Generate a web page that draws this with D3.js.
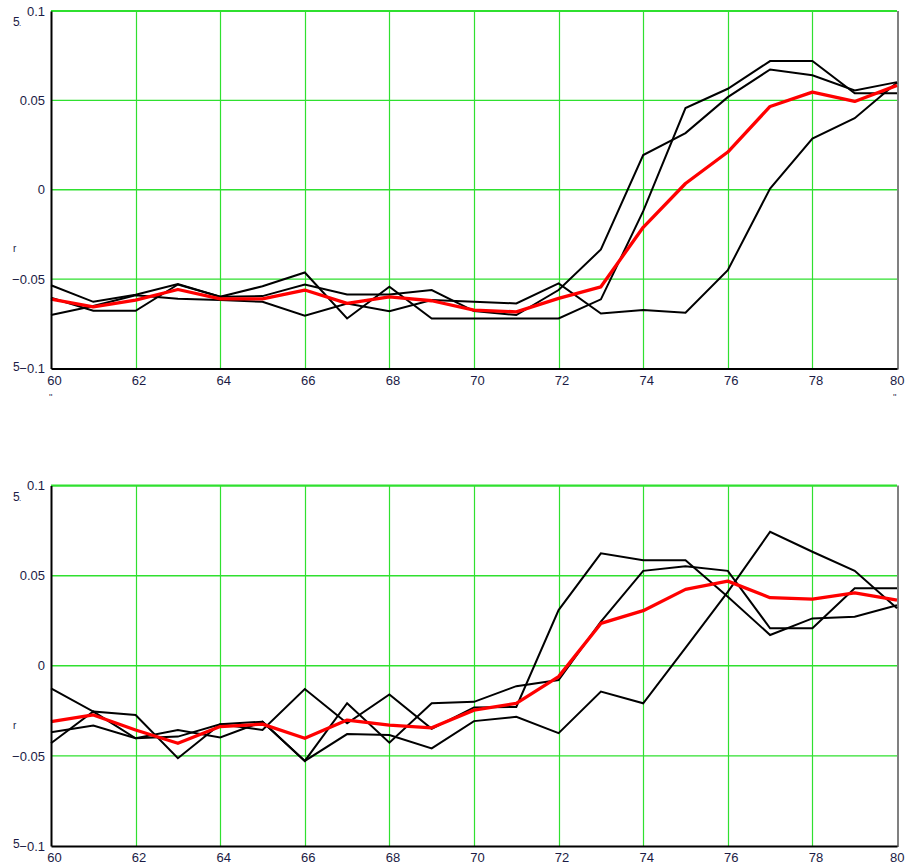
<!DOCTYPE html>
<html>
<head>
<meta charset="utf-8">
<script src="https://cdn.jsdelivr.net/npm/d3@7"></script>
<style>
  html, body { margin: 0; padding: 0; background: #fff; }
  svg { display: block; }
  text { font-family: "Liberation Sans", Arial, sans-serif; }
</style>
</head>
<body>
<svg id="chart" width="905" height="868"></svg>
<script>
// ---------- data ----------
const xValues = [60,61,62,63,64,65,66,67,68,69,70,71,72,73,74,75,76,77,78,79,80];
const xTickValues = [60,62,64,66,68,70,72,74,76,78,80];
const yTickValues = [-0.1,-0.05,0,0.05,0.1];
const yTickLabels = ["\u22120.1","\u22120.05","0","0.05","0.1"];

// top panel: three runs (black) and their mean (red)
const topRun1 = [-0.0534,-0.0627,-0.0587,-0.0528,-0.0599,-0.0540,-0.0463,-0.0720,-0.0543,-0.0720,-0.0720,-0.0720,-0.0720,-0.0613,-0.0120,0.0457,0.0565,0.0720,0.0720,0.0540,0.0540];
const topRun2 = [-0.0701,-0.0650,-0.0590,-0.0610,-0.0617,-0.0627,-0.0705,-0.0636,-0.0679,-0.0617,-0.0627,-0.0636,-0.0524,-0.0692,-0.0673,-0.0688,-0.0450,0.0007,0.0286,0.0400,0.0600];
const topRun3 = [-0.0604,-0.0677,-0.0677,-0.0530,-0.0599,-0.0595,-0.0530,-0.0586,-0.0586,-0.0561,-0.0679,-0.0701,-0.0561,-0.0334,0.0194,0.0317,0.0518,0.0673,0.0640,0.0556,0.0602];
const topMean = [-0.0612,-0.0655,-0.0617,-0.0558,-0.0610,-0.0610,-0.0561,-0.0636,-0.0599,-0.0621,-0.0673,-0.0683,-0.0608,-0.0543,-0.0210,0.0035,0.0211,0.0466,0.0546,0.0494,0.0584];

// bottom panel
const botRun1 = [-0.0125,-0.0254,-0.0273,-0.0513,-0.0324,-0.0310,-0.0528,-0.0208,-0.0427,-0.0208,-0.0200,-0.0113,-0.0079,0.0245,0.0527,0.0553,0.0527,0.0208,0.0208,0.0430,0.0430];
const botRun2 = [-0.0430,-0.0254,-0.0402,-0.0356,-0.0398,-0.0310,-0.0528,-0.0379,-0.0384,-0.0458,-0.0307,-0.0283,-0.0374,-0.0143,-0.0208,0.0100,0.0410,0.0744,0.0633,0.0527,0.0319];
const botRun3 = [-0.0369,-0.0332,-0.0402,-0.0393,-0.0324,-0.0356,-0.0129,-0.0319,-0.0159,-0.0350,-0.0231,-0.0228,0.0309,0.0624,0.0586,0.0586,0.0383,0.0171,0.0263,0.0272,0.0336];
const botMean = [-0.0310,-0.0273,-0.0356,-0.0430,-0.0337,-0.0324,-0.0402,-0.0301,-0.0329,-0.0344,-0.0246,-0.0208,-0.0060,0.0235,0.0306,0.0424,0.0470,0.0378,0.0370,0.0405,0.0365];

// ---------- drawing ----------
const svg = d3.select("#chart");
svg.append("rect").attr("width",905).attr("height",868).attr("fill","#fff");

const GRID = "#2fe02f";
const TXT = "#1b1b45";

function panel(top, bottom, runs, mean) {
  const x = d3.scaleLinear().domain([60,80]).range([51,897]);
  const y = d3.scaleLinear().domain([-0.1,0.1]).range([bottom, top]);
  const g = svg.append("g");

  // vertical grid lines
  g.selectAll("line.vg").data(xTickValues.filter(v => v > 60 && v < 80)).join("line")
    .attr("x1", d => Math.round(x(d)) + 0.5).attr("x2", d => Math.round(x(d)) + 0.5)
    .attr("y1", top).attr("y2", bottom)
    .attr("stroke", GRID).attr("stroke-width", 1.2);
  // horizontal grid lines
  g.selectAll("line.hg").data(yTickValues.filter(v => v > -0.1)).join("line")
    .attr("x1", 51).attr("x2", 897)
    .attr("y1", d => y(d)).attr("y2", d => y(d))
    .attr("stroke", GRID).attr("stroke-width", d => d === 0.1 ? 2.2 : 1.4);

  // right border
  g.append("line").attr("x1",898).attr("x2",898).attr("y1",top).attr("y2",bottom+1)
    .attr("stroke","#808080").attr("stroke-width",2);

  const line = d3.line().x((d,i) => x(xValues[i])).y(d => y(d));
  runs.forEach(r => {
    g.append("path").datum(r).attr("d", line)
      .attr("fill","none").attr("stroke","#000").attr("stroke-width",2)
      .attr("stroke-linejoin","miter");
  });
  g.append("path").datum(mean).attr("d", line)
    .attr("fill","none").attr("stroke","#ff0000").attr("stroke-width",3.3)
    .attr("stroke-linejoin","round");

  // axes
  const ax = g.append("g").attr("transform", `translate(0,${bottom})`)
    .call(d3.axisBottom(x).tickValues(xTickValues).tickSize(0).tickSizeOuter(0).tickPadding(7).tickFormat(d3.format("d")));
  ax.select(".domain").attr("stroke","#000").attr("stroke-width",2);
  ax.selectAll(".tick text").attr("fill",TXT).attr("font-size",13).attr("dx",3);
  ax.selectAll(".tick text").filter(d => d === 80).attr("text-anchor","end").attr("dx",7);

  const ay = g.append("g").attr("transform", `translate(51,0)`)
    .call(d3.axisLeft(y).tickValues(yTickValues).tickSize(0).tickSizeOuter(0).tickPadding(6)
      .tickFormat((d,i) => yTickLabels[i]));
  ay.select(".domain").attr("stroke","#000").attr("stroke-width",2);
  ay.selectAll(".tick text").attr("fill",TXT).attr("font-size",13);

  // small stray labels
  g.append("text").attr("x",13).attr("y",top+15).attr("font-size",12).attr("fill",TXT).text("5");
  g.append("text").attr("x",19).attr("y",top+15).attr("font-size",8).attr("fill",TXT).text(".");
  g.append("text").attr("x",13).attr("y",bottom+2).attr("font-size",12).attr("fill",TXT).text("5");
  g.append("text").attr("x",13).attr("y",y(-0.035)).attr("font-size",10).attr("fill",TXT).text("r");
  return {x, y};
}

panel(11, 368.5, [topRun1, topRun2, topRun3], topMean);
panel(485.6, 846, [botRun1, botRun2, botRun3], botMean);

// tiny cut-off unit marks under the top panel
svg.append("text").attr("x",49).attr("y",400).attr("font-size",9).attr("fill",TXT).text("''");
svg.append("text").attr("x",893).attr("y",400).attr("font-size",9).attr("fill",TXT).text("''");
</script>
</body>
</html>
